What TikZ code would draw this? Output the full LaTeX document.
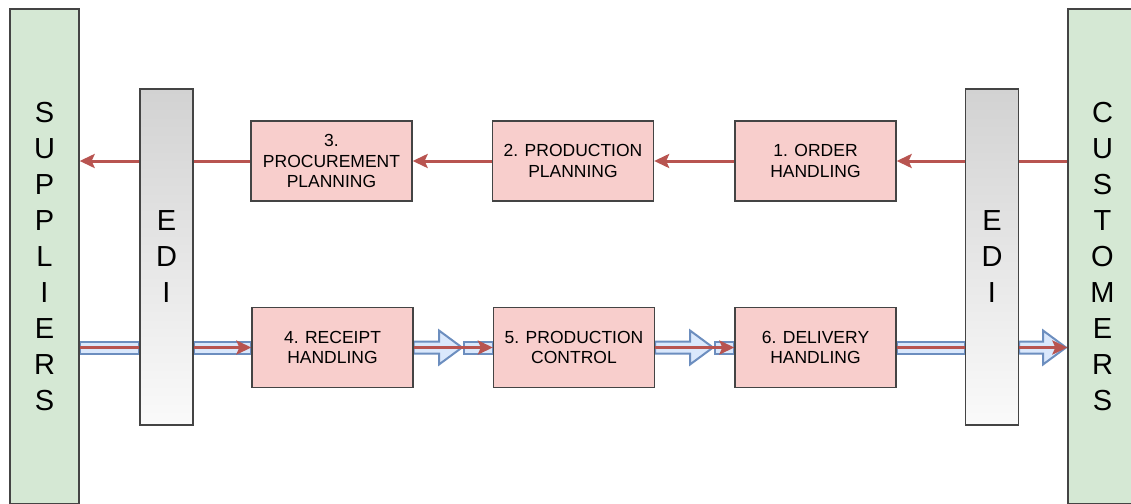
\documentclass[tikz,border=0pt]{standalone}
\usepackage{fontspec}
\setmainfont{Liberation Sans}
\usetikzlibrary{arrows.meta,calc}

\definecolor{redline}{HTML}{B85450}
\definecolor{pinkfill}{HTML}{F8CECC}
\definecolor{greenfill}{HTML}{D5E8D4}
\definecolor{bluestroke}{HTML}{6C8EBF}
\definecolor{bluefill}{HTML}{DAE8FC}
\definecolor{edgegray}{HTML}{444444}
\definecolor{edigray}{HTML}{D2D2D2}
\definecolor{ediwhite}{HTML}{FAFAFA}

\pgfdeclarelayer{bg}
\pgfsetlayers{bg,main}

\tikzset{
  stepbox/.style={draw=edgegray, line width=1.3pt, fill=pinkfill,
    minimum width=161pt, minimum height=80pt, inner sep=0pt,
    align=center, font=\fontsize{17.5}{20.5}\selectfont},
  party/.style={draw=edgegray, line width=1.3pt, fill=greenfill,
    minimum width=69pt, minimum height=495pt, inner sep=0pt,
    align=center, font=\fontsize{29}{36}\selectfont},
  edibar/.style={draw=edgegray, line width=1.3pt, top color=edigray, bottom color=ediwhite,
    minimum width=53pt, minimum height=336pt, inner sep=0pt,
    align=center, font=\fontsize{29}{36}\selectfont},
  flow/.style={draw=redline, line width=3pt},
  flowhead/.style={flow, -{Stealth[length=15pt,width=14pt,inset=3pt]}},
  band/.style={draw=bluestroke, fill=bluefill, line width=2pt, line join=miter},
}

% plain blue band between two points (same height as the first)
\newcommand{\bandbar}[2]{%
  \filldraw[band] let \p1=(#1), \p2=(#2) in
    (\x1,{\y1+6pt}) rectangle (\x2,{\y1-6pt});}
% wide blue arrow from the first point to the tip at the second
\newcommand{\bandarrow}[2]{%
  \filldraw[band] let \p1=(#1), \p2=(#2) in
    (\x1,{\y1+6pt}) -- ({\x2-23pt},{\y1+6pt}) -- ({\x2-23pt},{\y1+17pt})
    -- (\x2,\y1) -- ({\x2-23pt},{\y1-17pt}) -- ({\x2-23pt},{\y1-6pt})
    -- (\x1,{\y1-6pt}) -- cycle;}

\begin{document}
\begin{tikzpicture}[x=1pt,y=-1pt]
  \useasboundingbox (0,0) rectangle (1131,503);
  \clip (0,0) rectangle (1131,503);

  % trading partners
  \node[party] (sup) at (44.5,256.5) {S\\U\\P\\P\\L\\I\\E\\R\\S};
  \node[party] (cus) at (1102.5,256.5) {C\\U\\S\\T\\O\\M\\E\\R\\S};

  % EDI gateways
  \node[edibar] (edil) at (166.5,257) {E\\D\\I};
  \node[edibar] (edir) at (992,257) {E\\D\\I};

  % order flow
  \node[stepbox] (b1) at (815.5,161) {1. ORDER\\HANDLING};
  \node[stepbox] (b2) at (573,161) {2. PRODUCTION\\PLANNING};
  \node[stepbox] (b3) at (331.5,161) {3.\\PROCUREMENT\\PLANNING};

  % goods flow
  \node[stepbox] (b4) at (332.5,347.5) {4. RECEIPT\\HANDLING};
  \node[stepbox] (b5) at (574,347.5) {5. PRODUCTION\\CONTROL};
  \node[stepbox] (b6) at (815.5,347.5) {6. DELIVERY\\HANDLING};

  \coordinate (t45) at (462,347.5);
  \coordinate (s45) at (464,347.5);
  \coordinate (t56) at (713,347.5);
  \coordinate (s56) at (715,347.5);
  \coordinate (tcus) at (1066,347.5);

  \begin{pgfonlayer}{bg}
    % information flow, customers to suppliers
    \draw[flowhead] (cus.west |- b1.east) -- (b1.east);
    \draw[flowhead] (b1.west) -- (b2.east);
    \draw[flowhead] (b2.west) -- (b3.east);
    \draw[flowhead] (b3.west) -- (sup.east |- b3.west);

    % material flow, suppliers to customers
    \bandbar{sup.east |- b4.west}{edil.west |- b4.west}
    \bandbar{edil.east |- b4.west}{b4.west}
    \bandarrow{b4.east}{t45}
    \bandbar{s45}{b5.west}
    \bandarrow{b5.east}{t56}
    \bandbar{s56}{b6.west}
    \bandbar{b6.east}{edir.west |- b6.east}
    \bandarrow{edir.east |- b6.east}{tcus}

    \draw[flow] (sup.east |- b4.west) -- (edil.west |- b4.west);
    \draw[flowhead] (edil.east |- b4.west) -- (b4.west);
    \draw[flowhead] (b4.east) -- (b5.west);
    \draw[flowhead] (b5.east) -- (b6.west);
    \draw[flow] (b6.east) -- (edir.west |- b6.east);
    \draw[flowhead] (edir.east |- b6.east) -- (cus.west |- b6.east);
  \end{pgfonlayer}
\end{tikzpicture}
\end{document}
